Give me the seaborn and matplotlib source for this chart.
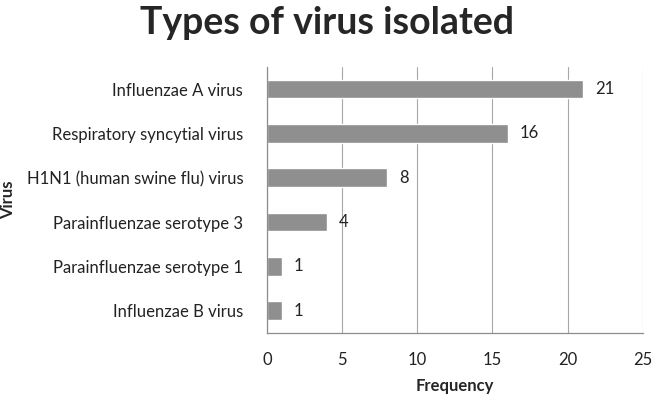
import numpy as np
import pandas as pd
import seaborn as sns
import matplotlib.pyplot as plt

viruses = ['Influenzae A virus', 'Respiratory syncytial virus',
           'H1N1 (human swine flu) virus', 'Parainfluenzae serotype 3',
           'Parainfluenzae serotype 1', 'Influenzae B virus']
counts = [21, 16, 8, 4, 1, 1]

df = pd.DataFrame({'Virus': viruses, 'Frequency': counts})

sns.set_style('white')
plt.rcParams['font.family'] = ['Lato', 'DejaVu Sans']

fig = plt.figure(figsize=(6.54, 4.01), dpi=100)
ax = fig.add_axes([0.408, 0.170, 0.575, 0.663])

sns.barplot(data=df, x='Frequency', y='Virus', orient='h', color='#8f8f8f',
            width=0.42, saturation=1, ax=ax)

ax.set_xlim(0, 25)
ax.set_xticks(np.arange(0, 26, 5))
ax.set_ylim(len(viruses) - 0.5, -0.5)
ax.xaxis.grid(True, color='#a6a6a6', linewidth=0.8)
ax.set_axisbelow(True)

for i, v in enumerate(counts):
    ax.text(v + 0.8, i, str(v), va='center', ha='left', fontsize=12, color='#222222')

for s in ['top', 'right']:
    ax.spines[s].set_visible(False)
for s in ['left', 'bottom']:
    ax.spines[s].set_color('#8c8c8c')
    ax.spines[s].set_linewidth(0.9)

# excel-style category ticks between the bars
ax.set_yticks(np.arange(-0.5, len(viruses)), minor=True)
ax.tick_params(axis='y', which='major', length=0, pad=17, labelsize=12, labelcolor='#222222')
ax.tick_params(axis='y', which='minor', length=6, color='#8c8c8c', direction='out', width=0.9)
ax.tick_params(axis='x', which='major', length=6, color='#8c8c8c', direction='out', width=0.9,
               pad=8, labelsize=12, labelcolor='#222222')

ax.set_xlabel('Frequency', fontsize=12, fontweight='bold', labelpad=7)
ax.set_ylabel('Virus', fontsize=12, fontweight='bold')
ax.yaxis.set_label_coords(-0.667, 0.5)

fig.suptitle('Types of virus isolated', fontsize=27, fontweight='bold', x=0.5, y=0.985)

fig.savefig('out.png', dpi=100)
